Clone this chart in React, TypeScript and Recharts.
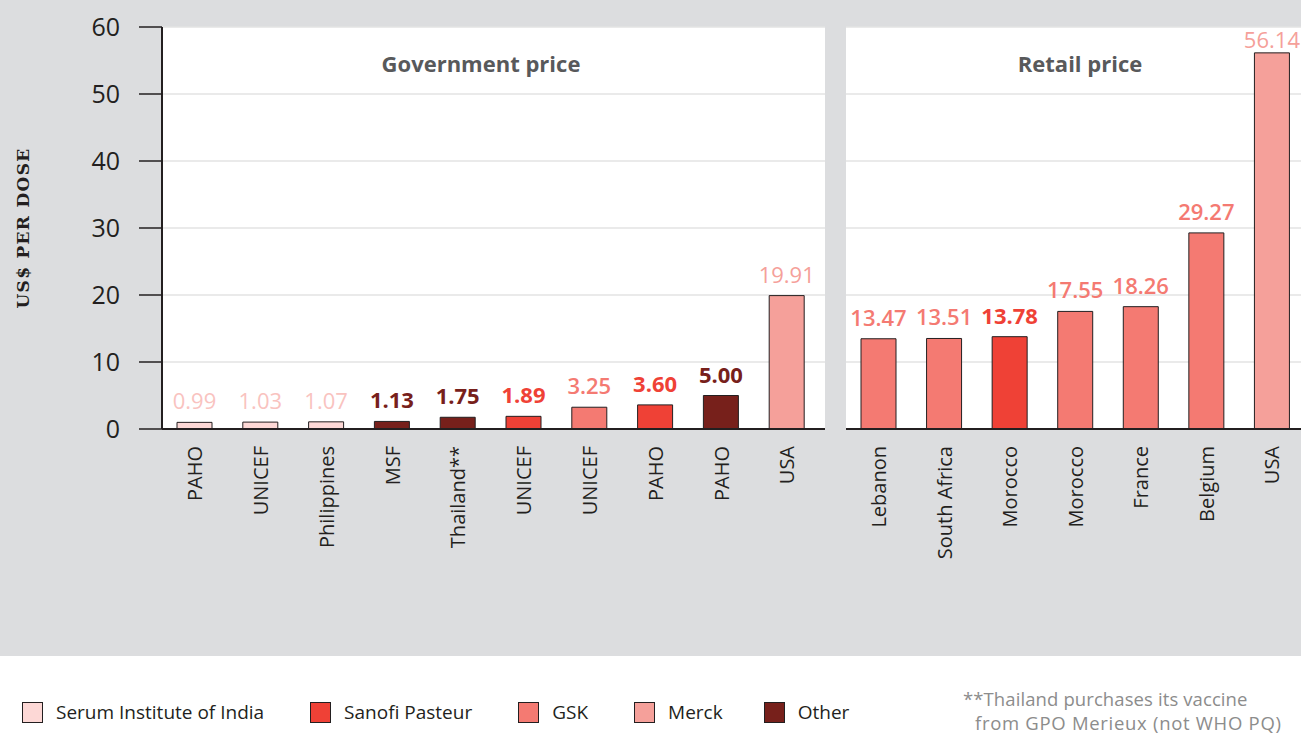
import { BarChart, Bar, XAxis, YAxis, CartesianGrid, LabelList, Cell } from "recharts";

const govNames = ["PAHO", "UNICEF", "Philippines", "MSF", "Thailand**", "UNICEF", "UNICEF", "PAHO", "PAHO", "USA"];
const govValues = [0.99, 1.03, 1.07, 1.13, 1.75, 1.89, 3.25, 3.6, 5.0, 19.91];
const govMakers = ["Serum", "Serum", "Serum", "Other", "Other", "Sanofi", "GSK", "Sanofi", "Other", "Merck"];

const retailNames = ["Lebanon", "South Africa", "Morocco", "Morocco", "France", "Belgium", "USA"];
const retailValues = [13.47, 13.51, 13.78, 17.55, 18.26, 29.27, 56.14];
const retailMakers = ["GSK", "GSK", "Sanofi", "GSK", "GSK", "GSK", "Merck"];

const yTicks = [0, 10, 20, 30, 40, 50, 60];

const legendKeys = ["Serum", "Sanofi", "GSK", "Merck", "Other"];
const legendNames = ["Serum Institute of India", "Sanofi Pasteur", "GSK", "Merck", "Other"];

const makerFill: Record<string, string> = {
  Serum: "#fdd8d6",
  Sanofi: "#ef4136",
  GSK: "#f47a72",
  Merck: "#f5a09a",
  Other: "#77201b",
};
const makerLabel: Record<string, string> = {
  Serum: "#f9c3bf",
  Sanofi: "#ef4136",
  GSK: "#f47a72",
  Merck: "#f5a09a",
  Other: "#77201b",
};
const makerWeight: Record<string, number> = {
  Serum: 400,
  Sanofi: 700,
  GSK: 600,
  Merck: 400,
  Other: 700,
};

const govData = govNames.map((name, i) => ({ id: i, name, value: govValues[i], maker: govMakers[i] }));
const retailData = retailNames.map((name, i) => ({ id: i, name, value: retailValues[i], maker: retailMakers[i] }));

const FONT = "'Open Sans', sans-serif";
const INK = "#231f20";

function makeNameTick(names: string[]) {
  return (props: any) => {
    const { x, y, payload } = props;
    return (
      <text
        transform={`translate(${x},${y + 17}) rotate(-90)`}
        textAnchor="end"
        dy="0.36em"
        fontFamily={FONT}
        fontSize={20}
        fill={INK}
      >
        {names[payload.value]}
      </text>
    );
  };
}

function makeValueLabel(makers: string[]) {
  return (props: any) => {
    const { x, y, width, value, index } = props;
    const m = makers[index];
    return (
      <text
        x={x + width / 2}
        y={Math.max(y - 13, 48)}
        textAnchor="middle"
        fontFamily={FONT}
        fontSize={22}
        fontWeight={makerWeight[m]}
        fill={makerLabel[m]}
      >
        {Number(value).toFixed(2)}
      </text>
    );
  };
}

function YLabel() {
  return (
    <text
      transform="translate(29,228) rotate(-90)"
      textAnchor="middle"
      fontFamily="'DejaVu Serif', serif"
      fontWeight={700}
      fontSize={17}
      letterSpacing={1.3}
      fill={INK}
    >
      US$ PER DOSE
    </text>
  );
}

function PanelTitle({ x, text }: { x: number; text: string }) {
  return (
    <div
      style={{
        position: "absolute",
        left: x - 150,
        width: 300,
        top: 49,
        textAlign: "center",
        fontFamily: FONT,
        fontWeight: 700,
        fontSize: 22,
        color: "#58595b",
        lineHeight: "28px",
      }}
    >
      {text}
    </div>
  );
}

export default function App() {
  return (
    <div
      style={{
        position: "absolute",
        left: 0,
        top: 0,
        width: 1301,
        height: 734,
        overflow: "hidden",
        background: "#fff",
      }}
    >
      <div style={{ position: "absolute", left: 0, top: 0, width: 1301, height: 656, background: "#dcdddf" }} />

      <div style={{ position: "absolute", left: 0, top: 0 }}>
        <BarChart width={830} height={600} data={govData} margin={{ top: 27, right: 5, left: 0, bottom: 0 }} barSize={35}>
          <CartesianGrid horizontal vertical={false} fill="#fff" stroke="#e3e3e3" strokeWidth={1.5} />
          <XAxis
            dataKey="id"
            type="category"
            interval={0}
            height={171}
            padding={{ left: 0, right: 5 }}
            tickLine={false}
            tickSize={0}
            tickMargin={0}
            axisLine={{ stroke: INK, strokeWidth: 2 }}
            tick={makeNameTick(govNames)}
          />
          <YAxis
            width={162}
            domain={[0, 60]}
            ticks={yTicks}
            interval={0}
            tickSize={23}
            tickMargin={19}
            axisLine={{ stroke: INK, strokeWidth: 2 }}
            tickLine={{ stroke: INK, strokeWidth: 1.5 }}
            tick={{ fontFamily: FONT, fontSize: 25, fill: INK }}
            label={<YLabel />}
          />
          <Bar dataKey="value" stroke={INK} strokeWidth={1} isAnimationActive={false}>
            {govData.map((d) => (
              <Cell key={d.id} fill={makerFill[d.maker]} />
            ))}
            <LabelList dataKey="value" content={makeValueLabel(govMakers)} />
          </Bar>
        </BarChart>
      </div>

      <div style={{ position: "absolute", left: 846, top: 0 }}>
        <BarChart width={459} height={600} data={retailData} margin={{ top: 27, right: 0, left: 0, bottom: 0 }} barSize={35}>
          <CartesianGrid horizontal vertical={false} fill="#fff" stroke="#e3e3e3" strokeWidth={1.5} />
          <XAxis
            dataKey="id"
            type="category"
            interval={0}
            height={171}
            tickLine={false}
            tickSize={0}
            tickMargin={0}
            axisLine={{ stroke: INK, strokeWidth: 2 }}
            tick={makeNameTick(retailNames)}
          />
          <YAxis hide domain={[0, 60]} ticks={yTicks} interval={0} />
          <Bar dataKey="value" stroke={INK} strokeWidth={1} isAnimationActive={false}>
            {retailData.map((d) => (
              <Cell key={d.id} fill={makerFill[d.maker]} />
            ))}
            <LabelList dataKey="value" content={makeValueLabel(retailMakers)} />
          </Bar>
        </BarChart>
      </div>

      <PanelTitle x={481} text="Government price" />
      <PanelTitle x={1080} text="Retail price" />

      <div
        style={{
          position: "absolute",
          left: 22,
          top: 701,
          display: "flex",
          alignItems: "center",
          fontFamily: FONT,
          fontSize: 19,
          color: INK,
        }}
      >
        {legendKeys.map((k, i) => (
          <div key={k} style={{ display: "flex", alignItems: "center", marginRight: k === "Merck" ? 41 : 46 }}>
            <div
              style={{
                width: 19,
                height: 19,
                background: makerFill[k],
                border: `1px solid ${INK}`,
                marginRight: 13,
              }}
            />
            <span style={{ lineHeight: "22px" }}>{legendNames[i]}</span>
          </div>
        ))}
      </div>

      <div
        style={{
          position: "absolute",
          left: 963,
          top: 687,
          fontFamily: FONT,
          fontSize: 18.5,
          color: "#8c8c8c",
          lineHeight: "24px",
          whiteSpace: "nowrap",
        }}
      >
        <div style={{ letterSpacing: 0.1 }}>**Thailand purchases its vaccine</div>
        <div style={{ paddingLeft: 12, letterSpacing: 0.7 }}>from GPO Merieux (not WHO PQ)</div>
      </div>
    </div>
  );
}
